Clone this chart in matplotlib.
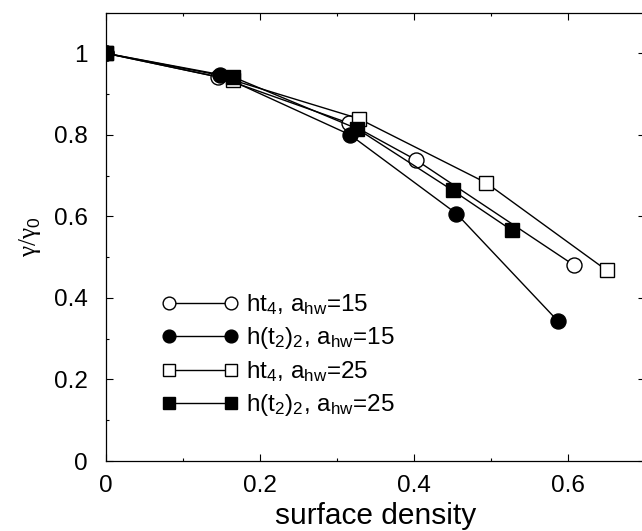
import matplotlib
matplotlib.use('Agg')
import matplotlib.pyplot as plt
from matplotlib.ticker import MultipleLocator

plt.rcParams['font.family'] = ['Liberation Sans', 'DejaVu Sans']
plt.rcParams['mathtext.fontset'] = 'custom'
plt.rcParams['mathtext.rm'] = 'Liberation Sans'
plt.rcParams['mathtext.it'] = 'Liberation Sans:italic'

# data
x_ht4_15 = [0.0, 0.146, 0.315, 0.403, 0.608]
y_ht4_15 = [1.0, 0.942, 0.829, 0.738, 0.480]
x_ht22_15 = [0.0, 0.148, 0.317, 0.455, 0.587]
y_ht22_15 = [1.0, 0.946, 0.800, 0.607, 0.343]
x_ht4_25 = [0.0, 0.165, 0.328, 0.494, 0.650]
y_ht4_25 = [1.0, 0.934, 0.840, 0.682, 0.468]
x_ht22_25 = [0.0, 0.165, 0.326, 0.450, 0.527]
y_ht22_25 = [1.0, 0.942, 0.815, 0.664, 0.566]

labels = [r'ht$_4$, a$_{\rm hw}$=15', r'h(t$_2$)$_2$, a$_{\rm hw}$=15',
          r'ht$_4$, a$_{\rm hw}$=25', r'h(t$_2$)$_2$, a$_{\rm hw}$=25']

fig = plt.figure(figsize=(6.42, 5.31), dpi=100)
ax = fig.add_axes([0.1651, 0.1318, 0.8396, 0.8446])

ax.plot(x_ht4_15, y_ht4_15, '-o', color='black', mfc='white', mec='black',
        ms=10.8, lw=1, label=labels[0])
ax.plot(x_ht22_15, y_ht22_15, '-o', color='black', mfc='black', mec='black',
        ms=10.8, lw=1, label=labels[1])
ax.plot(x_ht4_25, y_ht4_25, '-s', color='black', mfc='white', mec='black',
        ms=9.4, lw=1, label=labels[2])
ax.plot(x_ht22_25, y_ht22_25, '-s', color='black', mfc='black', mec='black',
        ms=9.4, lw=1, label=labels[3])

ax.set_xlim(0, 0.7)
ax.set_ylim(0, 1.1)
ax.xaxis.set_major_locator(MultipleLocator(0.2))
ax.xaxis.set_minor_locator(MultipleLocator(0.1))
ax.yaxis.set_major_locator(MultipleLocator(0.2))
ax.yaxis.set_minor_locator(MultipleLocator(0.1))
ax.xaxis.set_major_formatter(plt.FuncFormatter(lambda v, p: f'{v:g}'))
ax.yaxis.set_major_formatter(plt.FuncFormatter(lambda v, p: f'{v:g}'))
ax.tick_params(which='both', direction='in', top=True, right=True, labelsize=17.5)
ax.tick_params(axis='y', pad=13)
ax.tick_params(axis='x', pad=10)
ax.tick_params(which='major', length=5, width=0.8)
ax.tick_params(which='minor', length=2.5, width=0.8)
for sp in ax.spines.values():
    sp.set_linewidth(0.9)

ax.set_xlabel('surface density', fontsize=21.5, labelpad=4)
ax.set_ylabel(r'γ/γ$_0$', fontsize=18, family='Liberation Serif', labelpad=8)

ax.legend(loc='upper left', bbox_to_anchor=(0.0853, 0.398), frameon=False, numpoints=2,
          handlelength=3.17, fontsize=17.5, labelspacing=0.33, handletextpad=0.3,
          markerscale=0.85, borderaxespad=0)

fig.savefig('out.png', dpi=100)
